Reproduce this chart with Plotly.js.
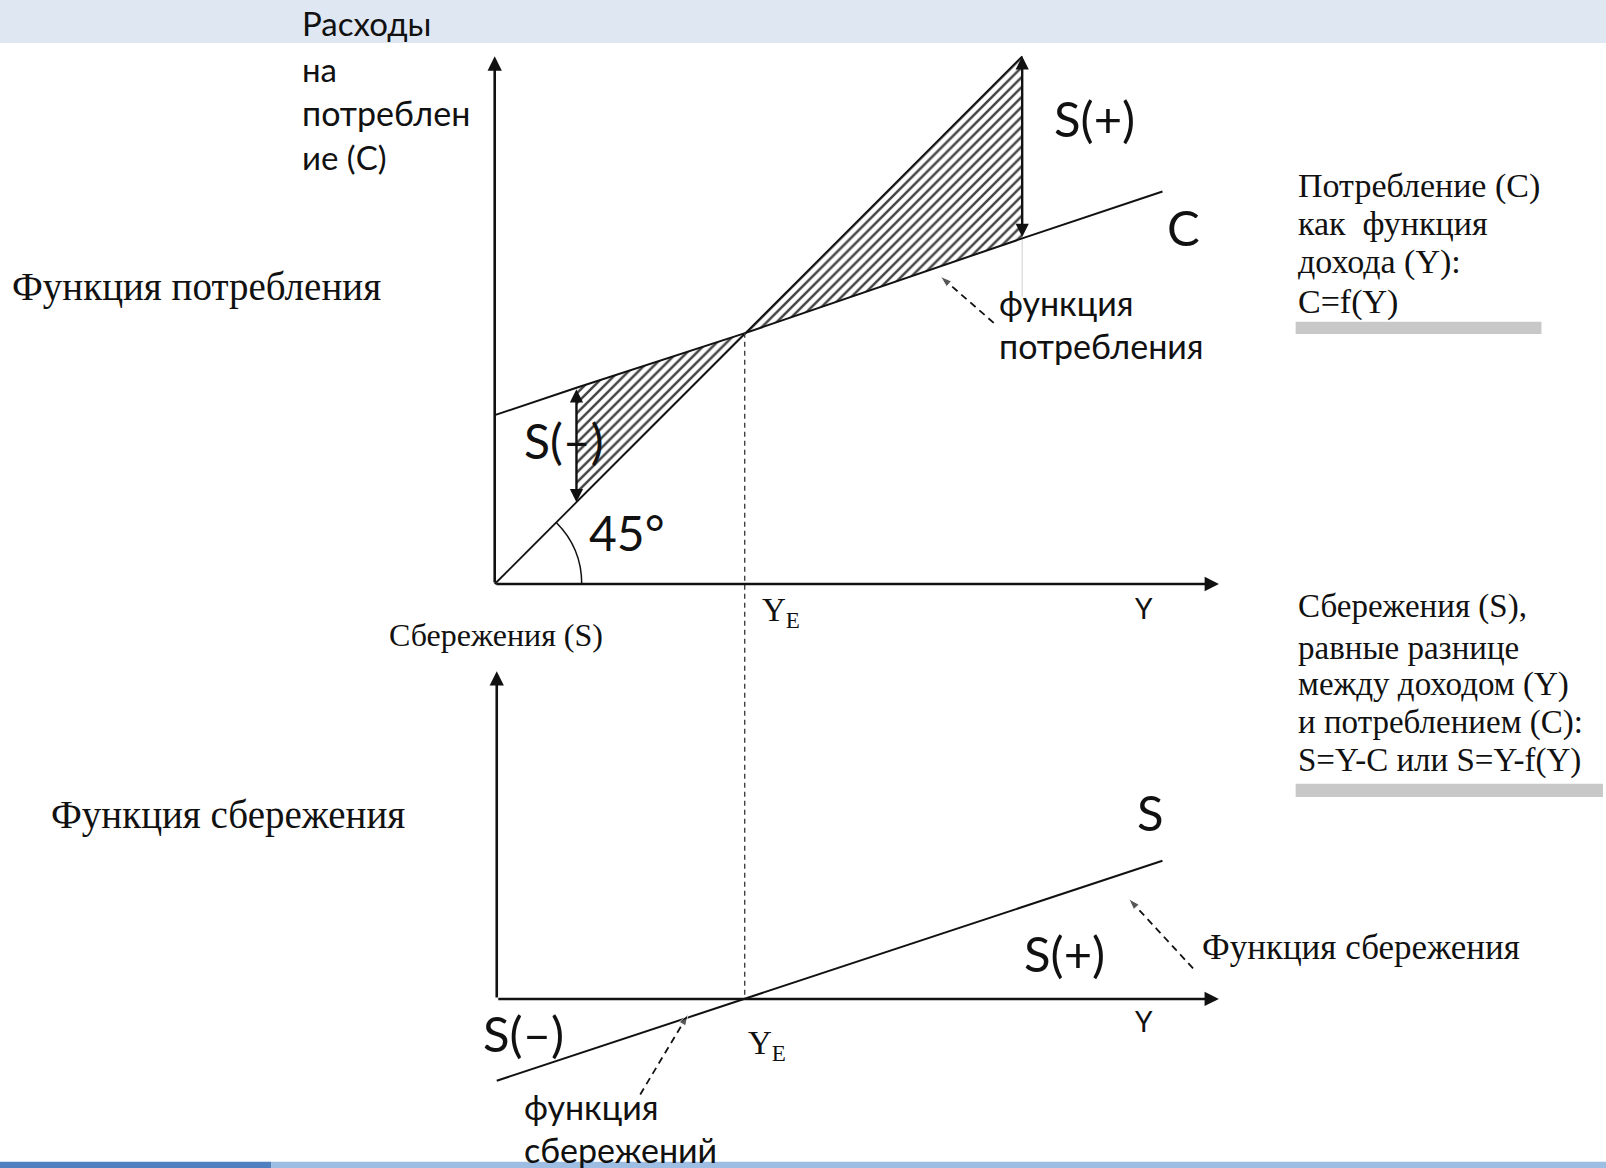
<!DOCTYPE html>
<html>
<head>
<meta charset="utf-8">
<script src="https://cdn.plot.ly/plotly-3.0.1.min.js"></script>
<style>html,body{margin:0;padding:0;background:#fff;}#chart{width:1606px;height:1168px;}</style>
</head>
<body>
<div id="chart"></div>
<script>
// ---------- data (in diagram units) ----------
// Upper panel: consumption function C = f(Y) and the 45° line
const incomeY       = [0, 1.55, 4.76, 10, 12.66];
const consumptionC  = [3.2, 3.72, 4.76, 6.55, 7.44];
const line45Y       = [0, 10];
const line45C       = [0, 10];
// hatched gaps between the 45° line and C
const dissavingY    = [1.55, 1.55, 4.76];
const dissavingVal  = [3.72, 1.55, 4.76];
const savingY       = [4.76, 10, 10];
const savingVal     = [4.76, 10, 6.55];
// arrows S(-) and S(+)
const gapArrowY     = [1.55, 10];
const gapArrowLow   = [1.55, 6.55];
const gapArrowHigh  = [3.72, 10];
// equilibrium guide (from C=Y down to the lower axis)
const guideY        = [4.74, 4.74];
const guideC        = [4.76, -7.86];
// axes extents
const upperAxisX = 13.73, upperAxisTop = 10.0;
const lowerAxisX = 13.69, lowerAxisTop = 6.21;
// Lower panel: savings function S = Y - f(Y)
const savingsY      = [0, 4.70, 12.62];
const savingsS      = [-1.55, 0, 2.62];
// dashed pointers [tail, head]
const ptrConsX = [9.46, 8.45], ptrConsY = [4.95, 5.83];
const ptrSavLX = [2.72, 3.63], ptrSavLY = [-1.81, -0.29];
const ptrSavRX = [13.2, 11.98], ptrSavRY = [0.58, 1.9];

// ---------- styling helpers ----------
const INK = '#111111';
const SANS = 'Lato, "Open Sans", sans-serif';
const SERIF = '"Liberation Serif", "DejaVu Serif", serif';
const W = 1568, H = 1140; // reference measuring grid
const px = v => v / W, py = v => 1 - v / H;

function label(text, x, y, size, family, anchor) {
  return {text: text, xref: 'paper', yref: 'paper', x: px(x), y: py(y),
          xanchor: anchor || 'left', yanchor: 'middle', showarrow: false,
          font: {family: family, size: size, color: INK}};
}
function arrow(xr, yr, x, y, ax, ay, both, w) {
  return {xref: xr, yref: yr, axref: xr, ayref: yr, x: x, y: y, ax: ax, ay: ay,
          text: '', showarrow: true, arrowhead: 2, arrowsize: 1.1, arrowwidth: w || 2.5,
          arrowcolor: INK, arrowside: both ? 'end+start' : 'end', standoff: 0, startstandoff: 0};
}

const hatch = {shape: '/', size: 7, solidity: 0.36, fgcolor: '#444444', bgcolor: '#ffffff'};
const dashedPtr = {color: INK, width: 1.8, dash: '7px,5px'};
const ptrMarker = {symbol: ['circle', 'arrow'], size: [0, 12], angleref: 'previous', color: INK};

const traces = [
  {x: dissavingY, y: dissavingVal, xaxis: 'x', yaxis: 'y', mode: 'lines', fill: 'toself',
   fillcolor: 'rgba(0,0,0,0)', fillpattern: hatch, line: {width: 0}, hoverinfo: 'skip'},
  {x: savingY, y: savingVal, xaxis: 'x', yaxis: 'y', mode: 'lines', fill: 'toself',
   fillcolor: 'rgba(0,0,0,0)', fillpattern: hatch, line: {width: 0}, hoverinfo: 'skip'},
  {x: [gapArrowY[1], gapArrowY[1]], y: [gapArrowLow[1], 5.44], xaxis: 'x', yaxis: 'y', mode: 'lines',
   line: {color: '#d0d0d0', width: 1}, hoverinfo: 'skip'},
  {x: incomeY, y: consumptionC, xaxis: 'x', yaxis: 'y', mode: 'lines',
   line: {color: INK, width: 2}, hoverinfo: 'skip'},
  {x: line45Y, y: line45C, xaxis: 'x', yaxis: 'y', mode: 'lines',
   line: {color: INK, width: 1.8}, hoverinfo: 'skip'},
  {x: guideY, y: guideC, xaxis: 'x', yaxis: 'y', mode: 'lines',
   line: {color: '#333', width: 1.3, dash: '5px,4px'}, hoverinfo: 'skip'},
  {x: ptrConsX, y: ptrConsY, xaxis: 'x', yaxis: 'y', mode: 'lines+markers',
   line: dashedPtr, marker: ptrMarker, hoverinfo: 'skip'},
  {x: savingsY, y: savingsS, xaxis: 'x2', yaxis: 'y2', mode: 'lines',
   line: {color: INK, width: 2}, hoverinfo: 'skip'},
  {x: ptrSavLX, y: ptrSavLY, xaxis: 'x2', yaxis: 'y2', mode: 'lines+markers',
   line: dashedPtr, marker: ptrMarker, hoverinfo: 'skip'},
  {x: ptrSavRX, y: ptrSavRY, xaxis: 'x2', yaxis: 'y2', mode: 'lines+markers',
   line: dashedPtr, marker: ptrMarker, hoverinfo: 'skip'}
];

const unit = 51.5; // reference px per diagram unit
const ax0 = {visible: false, fixedrange: true};
const layout = {
  width: 1606, height: 1168, autosize: false, showlegend: false,
  margin: {l: 0, r: 0, t: 0, b: 0, pad: 0},
  paper_bgcolor: '#ffffff', plot_bgcolor: 'rgba(0,0,0,0)',
  xaxis:  Object.assign({}, ax0, {domain: [0, 1], range: [-483 / unit, (W - 483) / unit]}),
  yaxis:  Object.assign({}, ax0, {domain: [0, 1], range: [-(H - 570) / unit, 570 / unit]}),
  xaxis2: Object.assign({}, ax0, {domain: [0, 1], anchor: 'y2', overlaying: 'x', range: [-485 / unit, (W - 485) / unit]}),
  yaxis2: Object.assign({}, ax0, {domain: [0, 1], anchor: 'x2', overlaying: 'y', range: [-(H - 975) / unit, 975 / unit]}),
  shapes: [
    {type: 'rect', xref: 'paper', yref: 'paper', x0: 0, x1: 1, y0: py(42), y1: 1,
     fillcolor: '#dfe7f3', line: {width: 0}, layer: 'below'},
    {type: 'rect', xref: 'paper', yref: 'paper', x0: 0, x1: px(265), y0: 0, y1: 6 / H,
     fillcolor: '#4f7fbf', line: {width: 0}, layer: 'below'},
    {type: 'rect', xref: 'paper', yref: 'paper', x0: px(265), x1: 1, y0: 0, y1: 6 / H,
     fillcolor: '#9dbde2', line: {width: 0}, layer: 'below'},
    {type: 'rect', xref: 'paper', yref: 'paper', x0: px(1265), x1: px(1505), y0: py(326), y1: py(314),
     fillcolor: '#c8c8c8', line: {width: 0}},
    {type: 'rect', xref: 'paper', yref: 'paper', x0: px(1265), x1: px(1565), y0: py(778), y1: py(765),
     fillcolor: '#c8c8c8', line: {width: 0}},
    (function () { const r = 1.65, c = r * (Math.SQRT2 - 1), e = r / Math.SQRT2;
      return {type: 'path', xref: 'x', yref: 'y', path: `M ${r},0 Q ${r},${c} ${e},${e}`,
              line: {color: INK, width: 1.5}}; })()
  ],
  annotations: [
    // axes
    arrow('x', 'y', upperAxisX, 0, 0, 0, false, 2.6),
    arrow('x', 'y', 0, upperAxisTop, 0, 0, false, 2.6),
    arrow('x2', 'y2', lowerAxisX, 0, 0, 0, false, 2.6),
    arrow('x2', 'y2', 0, lowerAxisTop, 0, 0, false, 2.6),
    // S(-) and S(+) gap arrows
    arrow('x', 'y', gapArrowY[0], gapArrowLow[0], gapArrowY[0], gapArrowHigh[0], true, 2.4),
    arrow('x', 'y', gapArrowY[1], gapArrowHigh[1], gapArrowY[1], gapArrowLow[1], true, 2.4),
    // sans labels
    label('Расходы', 293, 22, 33, SANS),
    label('на', 293, 67, 33, SANS),
    label('потреблен', 293, 110, 34, SANS),
    label('ие (C)', 293, 153, 33, SANS),
    label('S(+)', 1027, 115, 49, SANS),
    label('C', 1137, 222, 49, SANS),
    label('функция', 973, 295, 34, SANS),
    label('потребления', 973, 337, 34, SANS),
    label('S(–)', 510, 430, 48, SANS),
    label('45°', 573, 520, 48, SANS),
    label('Y', 1117, 593, 28, SANS, 'center'),
    label('S', 1108, 793, 49, SANS),
    label('S(+)', 998, 930, 49, SANS),
    label('Y', 1117, 997, 28, SANS, 'center'),
    label('S(–)', 470, 1008, 49, SANS),
    label('функция', 510, 1080, 34, SANS),
    label('сбережений', 510, 1122, 34, SANS),
    // serif labels
    label('Функция потребления', 10, 280, 39, SERIF),
    label('Потребление (C)', 1265, 182, 34, SERIF),
    label('как  функция', 1265, 218, 34, SERIF),
    label('дохода (Y):', 1265, 256, 34, SERIF),
    label('C=f(Y)', 1265, 295, 34, SERIF),
    label('Y<sub>E</sub>', 742, 598, 33, SERIF),
    label('Сбережения (S)', 378, 620, 32, SERIF),
    label('Сбережения (S),', 1265, 592, 33, SERIF),
    label('равные разнице', 1265, 632, 33, SERIF),
    label('между доходом (Y)', 1265, 668, 33, SERIF),
    label('и потреблением (C):', 1265, 705, 33, SERIF),
    label('S=Y-C или S=Y-f(Y)', 1265, 742, 33, SERIF),
    label('Функция сбережения', 48, 795, 39, SERIF),
    label('Функция сбережения', 1172, 925, 35, SERIF),
    label('Y<sub>E</sub>', 728, 1020, 33, SERIF)
  ]
};

Plotly.newPlot('chart', traces, layout, {staticPlot: true, displayModeBar: false});
</script>
</body>
</html>
